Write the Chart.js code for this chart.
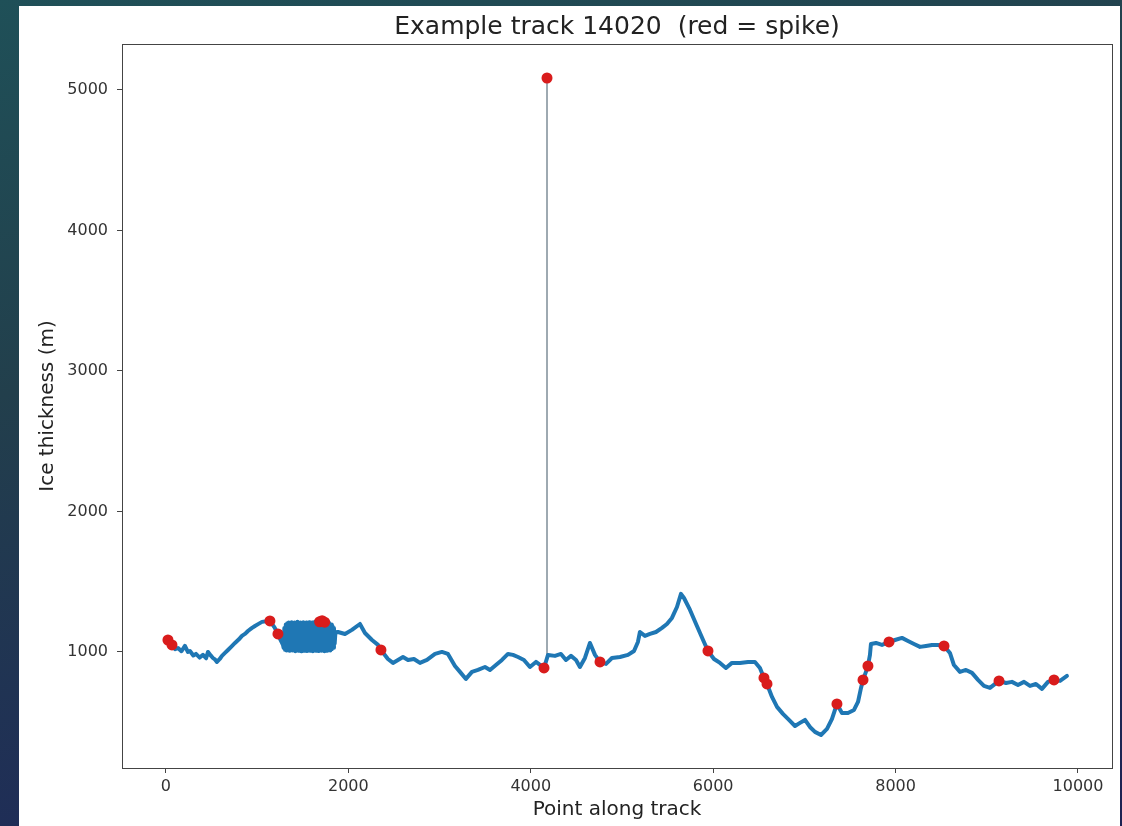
<!DOCTYPE html>
<html>
<head>
<meta charset="utf-8">
<script src="https://cdn.jsdelivr.net/npm/chart.js@4.4.1/dist/chart.umd.min.js"></script>
<style>
  html, body { margin:0; padding:0; width:1122px; height:826px; overflow:hidden;
    background: linear-gradient(165deg, #1f5058 0%, #223f4c 35%, #1f2d57 75%, #1c2252 100%); }
  #panel { position:absolute; left:19px; top:6px; width:1101px; height:820px; background:#fff; }
  canvas { display:block; }
</style>
</head>
<body>
<div id="panel"><canvas id="c" width="1101" height="820"></canvas></div>
<script>
// ---- Data ----
const titleText = 'Example track 14020  (red = spike)';
const xLabel = 'Point along track';
const yLabel = 'Ice thickness (m)';
const xTicks = [0, 2000, 4000, 6000, 8000, 10000];
const yTicks = [1000, 2000, 3000, 4000, 5000];

// Ice thickness track (point index, thickness in m) -- first stretch
const trackX1 = [22, 45, 66, 100, 132, 170, 208, 240, 263, 300, 329, 370, 406, 440, 461, 490, 515, 540, 559, 590, 614, 650, 680, 720, 757, 800, 833, 870, 899, 940, 976, 1015, 1053, 1100, 1140, 1190, 1228, 1260, 1283];
const trackY1 = [1085, 1060, 1050, 1020, 1028, 1005, 1043, 1000, 1007, 975, 986, 960, 979, 955, 1000, 975, 957, 945, 929, 950, 972, 995, 1014, 1040, 1064, 1090, 1114, 1130, 1149, 1170, 1185, 1200, 1214, 1218, 1221, 1175, 1128, 1080, 1050];

// Dense, rapidly oscillating stretch (the solid blue block)
const trackX2 = [1290, 1298, 1306, 1314, 1322, 1330, 1338, 1346,
  1354, 1362, 1370, 1378, 1386, 1394, 1402, 1410,
  1418, 1426, 1434, 1442, 1450, 1458, 1466, 1474,
  1482, 1490, 1498, 1506, 1514, 1522, 1530, 1538,
  1546, 1554, 1562, 1570, 1578, 1586, 1594, 1602,
  1610, 1618, 1626, 1634, 1642, 1650, 1658, 1666,
  1674, 1682, 1690, 1698, 1706, 1714, 1722, 1730,
  1738, 1746, 1754, 1762, 1770, 1778, 1786, 1794,
  1802, 1810, 1818, 1826, 1834, 1842, 1850, 1858];
const trackY2 = [1030, 1170, 1015, 1195, 1010, 1205, 1020, 1210,
  1008, 1200, 1015, 1212, 1010, 1205, 1018, 1210,
  1005, 1200, 1012, 1215, 1008, 1205, 1016, 1210,
  1005, 1198, 1012, 1212, 1008, 1205, 1018, 1210,
  1006, 1200, 1014, 1212, 1008, 1205, 1016, 1210,
  1005, 1200, 1012, 1215, 1008, 1205, 1018, 1210,
  1006, 1200, 1014, 1215, 1008, 1218, 1016, 1212,
  1005, 1210, 1012, 1205, 1008, 1210, 1018, 1200,
  1010, 1195, 1020, 1185, 1030, 1170, 1060, 1140];

// Rest of the track
const trackX3 = [1886, 1963, 2039, 2127, 2182, 2259, 2325, 2357, 2434, 2489, 2544, 2599, 2654, 2719, 2785, 2862, 2950, 3026, 3092, 3169, 3224, 3289, 3355, 3421, 3498, 3553, 3618, 3684, 3750, 3805, 3860, 3925, 3991, 4057, 4145, 4189, 4265, 4331, 4386, 4441, 4496, 4539, 4594, 4649, 4704, 4759, 4825, 4890, 4978, 5066, 5132, 5175, 5197, 5252, 5307, 5373, 5439, 5493, 5548, 5603, 5647, 5680, 5746, 5822, 5899, 5943, 6009, 6075, 6140, 6206, 6294, 6382, 6458, 6513, 6557, 6590, 6645, 6700, 6765, 6831, 6897, 6952, 7007, 7061, 7116, 7182, 7248, 7303, 7357, 7412, 7478, 7544, 7588, 7621, 7643, 7675, 7697, 7719, 7730, 7785, 7851, 7928, 7993, 8070, 8136, 8202, 8268, 8333, 8399, 8465, 8531, 8596, 8640, 8706, 8772, 8838, 8904, 8969, 9035, 9134, 9211, 9276, 9342, 9408, 9474, 9539, 9605, 9671, 9737, 9803, 9879];
const trackY3 = [1142, 1128, 1157, 1199, 1135, 1085, 1050, 1014, 950, 922, 943, 964, 943, 950, 922, 943, 986, 1000, 986, 900, 858, 808, 858, 872, 893, 872, 907, 943, 986, 979, 964, 943, 893, 929, 886, 979, 972, 986, 943, 972, 943, 893, 957, 1064, 979, 929, 915, 957, 964, 979, 1007, 1071, 1142, 1114, 1128, 1142, 1171, 1199, 1242, 1320, 1413, 1384, 1299, 1185, 1071, 1007, 950, 922, 886, 922, 922, 929, 929, 886, 815, 772, 680, 609, 559, 516, 473, 495, 516, 466, 431, 409, 452, 523, 630, 566, 566, 587, 644, 744, 801, 858, 900, 979, 1057, 1064, 1050, 1071, 1085, 1100, 1078, 1057, 1036, 1043, 1050, 1050, 1043, 993, 907, 858, 872, 851, 801, 758, 744, 794, 779, 787, 765, 787, 758, 772, 737, 787, 801, 794, 829];

// Points flagged as spikes (red)
const spikeX = [22, 66, 1140, 1228, 1685, 1712, 1740, 2357, 4145, 4178, 4759, 5943, 6557, 6590, 7357, 7643, 7697, 7928, 8531, 9134, 9737];
const spikeY = [1085, 1050, 1221, 1128, 1215, 1222, 1212, 1014, 886, 5085, 929, 1007, 815, 772, 630, 801, 900, 1071, 1043, 794, 801];

// The isolated spike excursion (thin vertical line)
const spikeLineX = [4178, 4178];
const spikeLineY = [960, 5085];

// ---- Build chart ----
const zip = (xs, ys) => xs.map((x, i) => ({x, y: ys[i]}));
const trackPts = [].concat(zip(trackX1, trackY1), zip(trackX2, trackY2), zip(trackX3, trackY3));
const FONT = "'DejaVu Sans', 'Liberation Sans', sans-serif";

const framePlugin = {
  id: 'frame',
  afterDraw(chart) {
    const {ctx, chartArea: a} = chart;
    ctx.save();
    ctx.strokeStyle = '#444';
    ctx.lineWidth = 1;
    ctx.strokeRect(Math.round(a.left) + 0.5, Math.round(a.top) + 0.5, Math.round(a.right - a.left), Math.round(a.bottom - a.top));
    ctx.restore();
  }
};

new Chart(document.getElementById('c'), {
  type: 'scatter',
  data: {
    datasets: [
      { label: 'spike', data: zip(spikeX, spikeY), showLine: false,
        backgroundColor: '#d91c1c', borderColor: '#d91c1c', pointRadius: 5.5, pointBorderWidth: 0, order: 0 },
      { label: 'track', data: trackPts, showLine: true,
        borderColor: '#1f77b4', borderWidth: 4, pointRadius: 0, tension: 0, order: 1,
        borderJoinStyle: 'round', borderCapStyle: 'round' },
      { label: 'spikeLine', data: zip(spikeLineX, spikeLineY), showLine: true,
        borderColor: '#6a7c88', borderWidth: 1.3, pointRadius: 0, order: 2 }
    ]
  },
  options: {
    responsive: false,
    animation: false,
    layout: { padding: { left: 0, right: 8, top: 0, bottom: 0 } },
    plugins: {
      legend: { display: false },
      tooltip: { enabled: false },
      title: { display: true, fullSize: false, text: titleText, color: '#222',
        font: { family: FONT, size: 25, weight: 'normal' }, padding: { top: 6, bottom: 2 } }
    },
    scales: {
      x: {
        type: 'linear', min: -482, max: 10373,
        afterBuildTicks: s => { s.ticks = xTicks.map(v => ({value: v})); },
        afterFit: s => { s.height = 58; },
        ticks: { color: '#333', font: { family: FONT, size: 16 }, padding: 4, maxRotation: 0, autoSkip: false,
          callback: v => String(v) },
        grid: { display: true, drawOnChartArea: false, drawTicks: true, tickLength: 5, color: '#444' },
        border: { display: true, color: '#444', width: 1 },
        title: { display: true, text: xLabel, color: '#222', font: { family: FONT, size: 20 }, padding: { top: 0, bottom: 4 } }
      },
      y: {
        type: 'linear', min: 174, max: 5327,
        afterBuildTicks: s => { s.ticks = yTicks.map(v => ({value: v})); },
        afterFit: s => { s.width = 103; },
        ticks: { color: '#333', font: { family: FONT, size: 16 }, padding: 9, autoSkip: false,
          callback: v => String(v) },
        grid: { display: true, drawOnChartArea: false, drawTicks: true, tickLength: 5, color: '#444' },
        border: { display: true, color: '#444', width: 1 },
        title: { display: true, text: yLabel, color: '#222', font: { family: FONT, size: 20 }, padding: { top: 17, bottom: 0 } }
      }
    }
  },
  plugins: [framePlugin]
});
</script>
</body>
</html>
